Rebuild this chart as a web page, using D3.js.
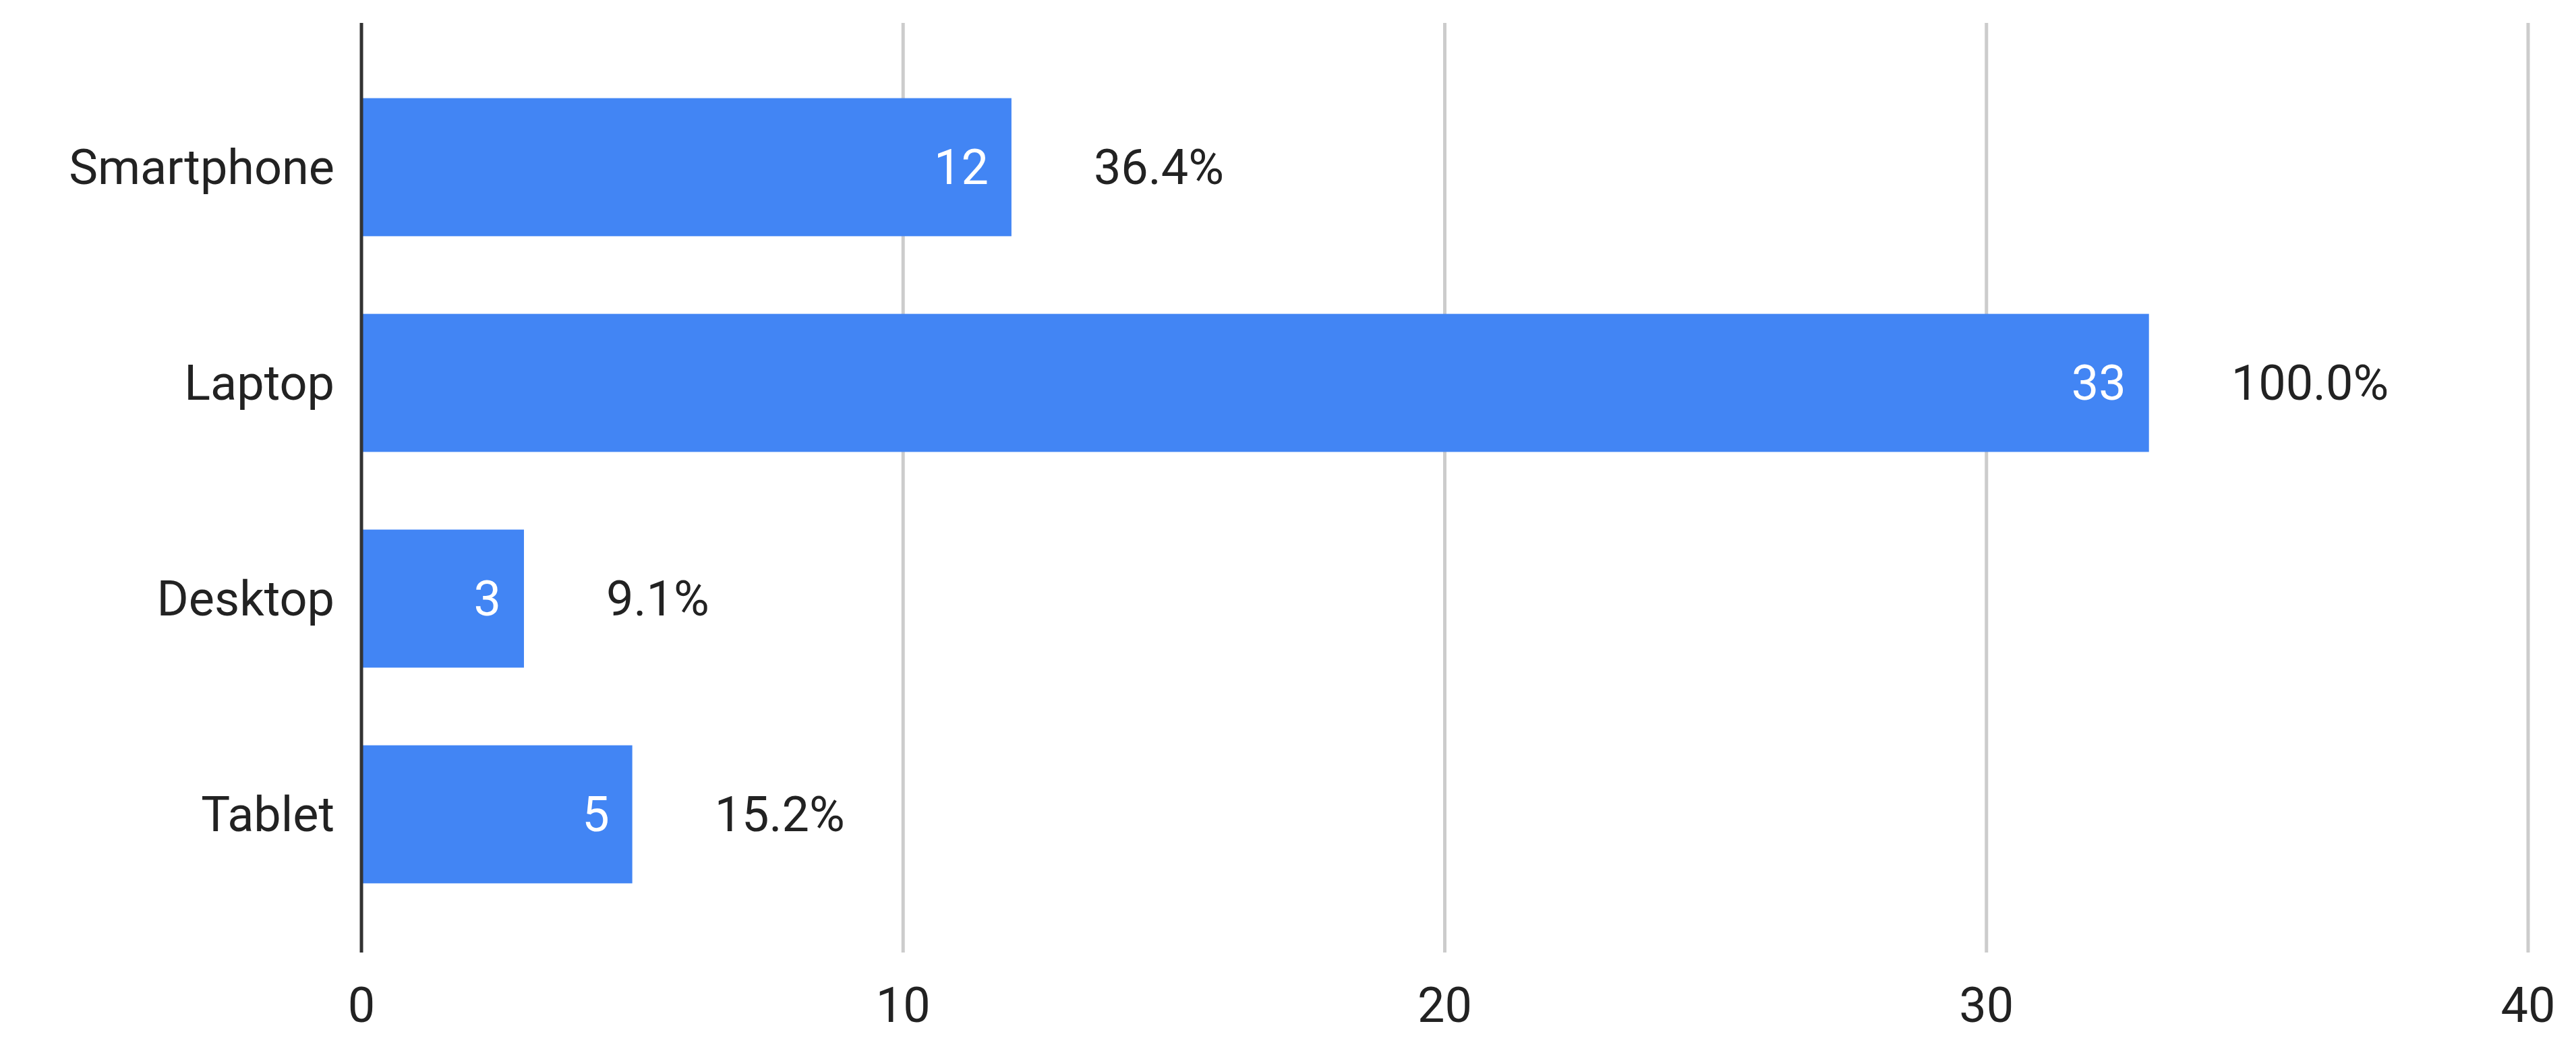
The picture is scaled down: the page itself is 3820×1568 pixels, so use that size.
<!DOCTYPE html>
<html>
<head>
<meta charset="utf-8">
<script src="https://cdn.jsdelivr.net/npm/d3@7"></script>
<style>
  body { margin: 0; background: #fff; }
  text { font-family: Roboto, "Noto Sans", sans-serif; }
</style>
</head>
<body>
<div id="chart"></div>
<script>
// Data
const categories = ["Smartphone", "Laptop", "Desktop", "Tablet"];
const values = [12, 33, 3, 5];
const percentLabels = ["36.4%", "100.0%", "9.1%", "15.2%"];
const xTicks = [0, 10, 20, 30, 40];

const W = 3820, H = 1568;
const x = d3.scaleLinear().domain([0, 40]).range([536, 3749]);
const y = d3.scaleBand().domain(categories).range([88, 1368])
    .paddingInner(0.36).paddingOuter(0.18);

const svg = d3.select("#chart").append("svg")
    .attr("width", W).attr("height", H);

// Gridlines
svg.append("g").selectAll("line")
  .data(xTicks.filter(d => d > 0))
  .join("line")
    .attr("x1", d => x(d)).attr("x2", d => x(d))
    .attr("y1", 34).attr("y2", 1413)
    .attr("stroke", "#cccccc").attr("stroke-width", 5);

// Bars
svg.append("g").selectAll("rect")
  .data(values)
  .join("rect")
    .attr("x", x(0))
    .attr("y", (d, i) => y(categories[i]))
    .attr("width", d => x(d) - x(0))
    .attr("height", y.bandwidth())
    .attr("fill", "#4285f4");

// Value labels inside bars
svg.append("g").selectAll("text")
  .data(values)
  .join("text")
    .attr("x", d => x(d) - 34)
    .attr("y", (d, i) => y(categories[i]) + y.bandwidth() / 2)
    .attr("dy", "0.35em")
    .attr("text-anchor", "end")
    .attr("fill", "#ffffff")
    .attr("font-size", 72)
    .text(d => d);

// Percent labels
svg.append("g").selectAll("text")
  .data(values)
  .join("text")
    .attr("x", d => x(d) + 122)
    .attr("y", (d, i) => y(categories[i]) + y.bandwidth() / 2)
    .attr("dy", "0.35em")
    .attr("fill", "#222222")
    .attr("font-size", 72)
    .text((d, i) => percentLabels[i]);

// Category labels
svg.append("g").selectAll("text")
  .data(categories)
  .join("text")
    .attr("x", x(0) - 40)
    .attr("y", d => y(d) + y.bandwidth() / 2)
    .attr("dy", "0.35em")
    .attr("text-anchor", "end")
    .attr("fill", "#222222")
    .attr("font-size", 72)
    .text(d => d);

// Baseline
svg.append("line")
    .attr("x1", x(0)).attr("x2", x(0))
    .attr("y1", 34).attr("y2", 1413)
    .attr("stroke", "#333333").attr("stroke-width", 5);

// X tick labels
svg.append("g").selectAll("text")
  .data(xTicks)
  .join("text")
    .attr("x", d => x(d))
    .attr("y", 1491)
    .attr("dy", "0.35em")
    .attr("text-anchor", "middle")
    .attr("fill", "#222222")
    .attr("font-size", 72)
    .text(d => d);
</script>
</body>
</html>
